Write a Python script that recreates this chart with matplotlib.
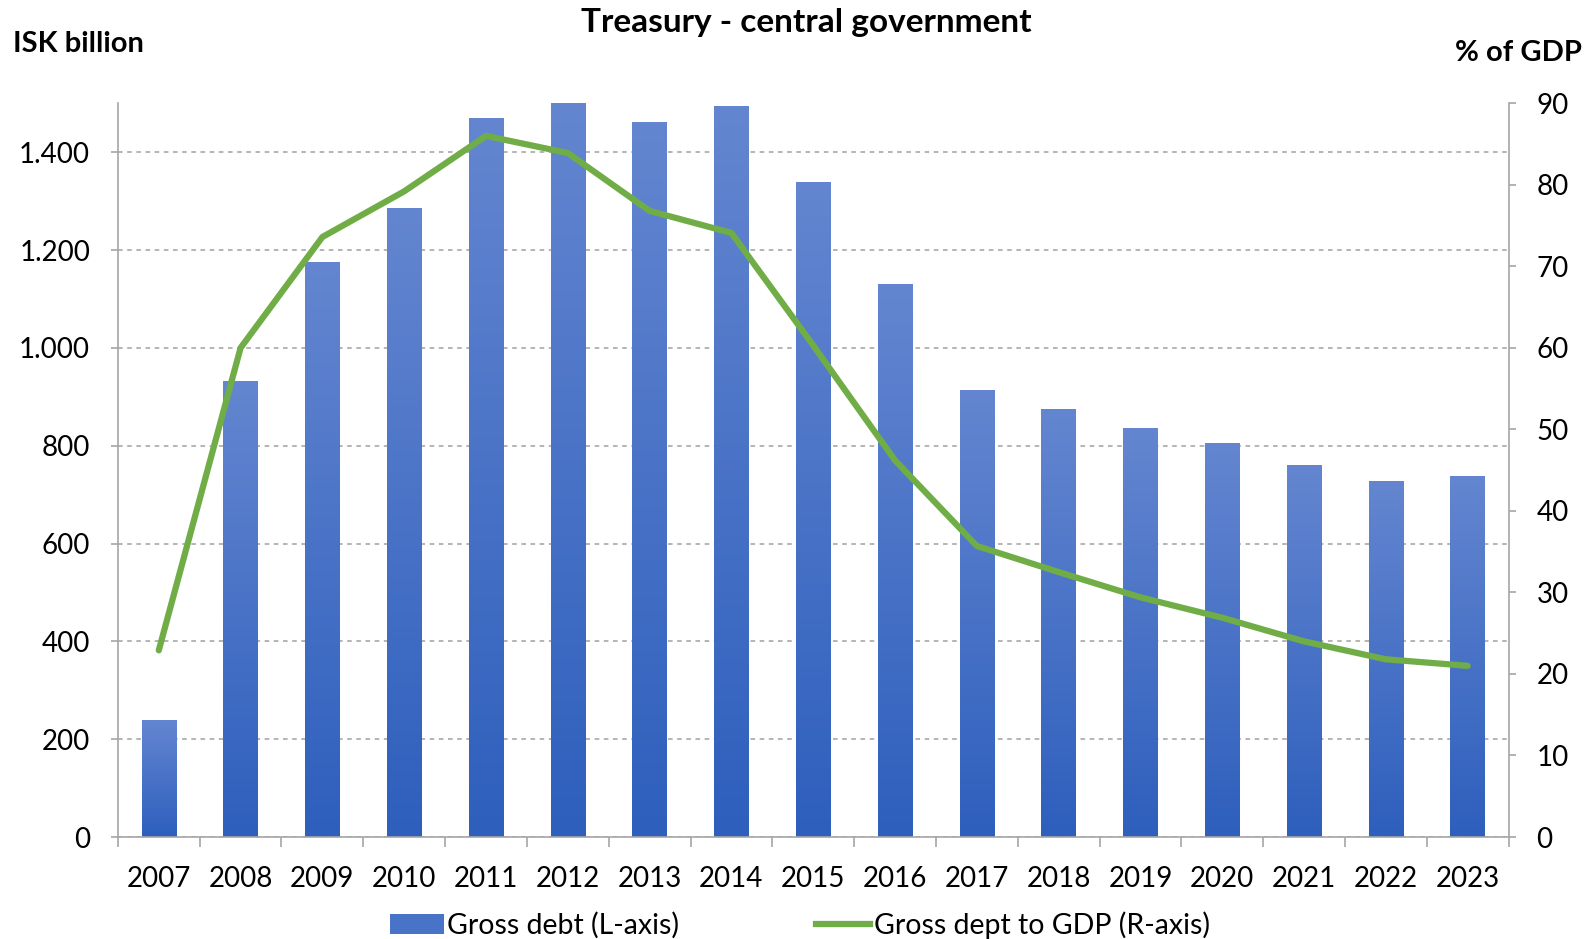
import matplotlib
matplotlib.use("Agg")
import matplotlib.pyplot as plt
from matplotlib.patches import Patch
from matplotlib.lines import Line2D
from matplotlib.ticker import FuncFormatter
import numpy as np

plt.rcParams['font.family'] = ['Lato', 'DejaVu Sans']

# Gögn
years = [2007, 2008, 2009, 2010, 2011, 2012, 2013, 2014, 2015,
         2016, 2017, 2018, 2019, 2020, 2021, 2022, 2023]
gross_debt = [239, 932, 1176, 1286, 1469, 1500, 1461, 1494, 1340,
              1131, 913, 875, 836, 805, 761, 728, 739]
debt_to_gdp = [22.9, 60.0, 73.6, 79.2, 86.0, 83.9, 76.8, 74.1, 60.3,
               46.2, 35.7, 32.5, 29.4, 26.9, 24.0, 21.8, 21.0]

blue_top = np.array([0x64, 0x86, 0xd0]) / 255
blue_bot = np.array([0x2e, 0x5f, 0xbd]) / 255
green = '#70ad47'
axis_grey = '#a6a6a6'

fig = plt.figure(figsize=(15.93, 9.39), dpi=100)
ax = fig.add_axes([0.074, 0.1086, 0.873, 0.7814])
x = np.arange(len(years))

bars = ax.bar(x, gross_debt, width=0.42, color='none', zorder=2)
grad = np.linspace(0, 1, 256).reshape(-1, 1)
cmap = matplotlib.colors.LinearSegmentedColormap.from_list('g', [blue_bot, blue_top])
for b in bars:
    im = ax.imshow(grad, cmap=cmap, origin='lower', aspect='auto',
                   extent=[b.get_x(), b.get_x() + b.get_width(), 0, b.get_height()],
                   zorder=2)
    im.set_clip_path(b)

ax.set_xlim(-0.5, len(years) - 0.5)
ax.set_ylim(0, 1500)
ax.set_yticks(range(0, 1401, 200))
ax.yaxis.set_major_formatter(FuncFormatter(lambda v, p: f"{int(v):,}".replace(',', '.')))
ax.set_xticks(x)
ax.set_xticklabels([str(y) for y in years])
ax.set_xticks(np.arange(-0.5, len(years), 1), minor=True)
ax.tick_params(axis='x', which='major', length=0, pad=21, labelsize=20)
ax.tick_params(axis='x', which='minor', length=7, color=axis_grey, width=1.2)
ax.tick_params(axis='y', length=5, color=axis_grey, width=1.2, labelsize=20, pad=15)
ax.grid(axis='y', linestyle=(0, (3, 3)), color='#a0a0a0', linewidth=1.1)
ax.set_axisbelow(True)
for s in ['top', 'right']:
    ax.spines[s].set_visible(False)
for s in ['left', 'bottom']:
    ax.spines[s].set_color(axis_grey)
    ax.spines[s].set_linewidth(1.2)

ax2 = ax.twinx()
ax2.plot(x, debt_to_gdp, color=green, linewidth=4.5, solid_capstyle='round', zorder=3)
ax2.set_ylim(0, 90)
ax2.set_yticks(range(0, 91, 10))
ax2.tick_params(axis='y', length=5, color=axis_grey, width=1.2, labelsize=20, pad=15)
for s in ['top', 'left', 'bottom']:
    ax2.spines[s].set_visible(False)
ax2.spines['right'].set_color(axis_grey)
ax2.spines['right'].set_linewidth(1.2)

fig.text(0.506, 0.976, 'Treasury - central government', ha='center', va='center',
         fontsize=24, fontweight='bold')
fig.text(0.008, 0.953, 'ISK billion', ha='left', va='center', fontsize=21, fontweight='bold')
fig.text(0.993, 0.944, '% of GDP', ha='right', va='center', fontsize=21, fontweight='bold')

handles = [Patch(facecolor=(blue_top + blue_bot) / 2, edgecolor='none'),
           Line2D([0], [0], color=green, linewidth=4.5)]
fig.legend(handles, ['Gross debt (L-axis)', 'Gross dept to GDP (R-axis)'],
           loc='lower center', bbox_to_anchor=(0.502, -0.027), ncol=2, frameon=False,
           fontsize=20.5, handlelength=1.9, handletextpad=0.12, columnspacing=4.8)

fig.savefig('out.png', dpi=100)
